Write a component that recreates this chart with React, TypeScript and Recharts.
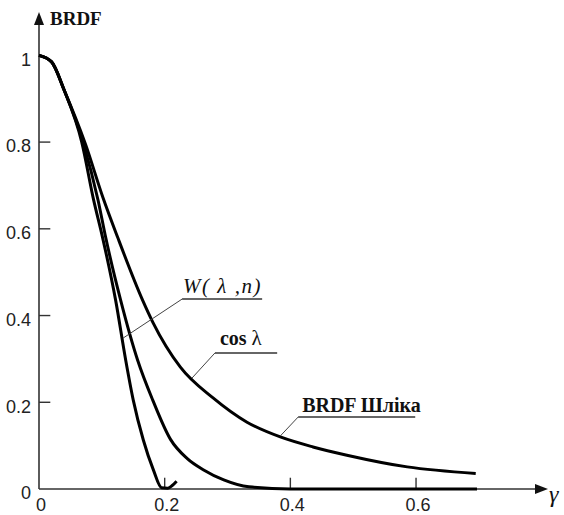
import { LineChart, Line, XAxis, YAxis, ReferenceLine, ReferenceDot } from 'recharts'

const X_TICKS = [0, 0.2, 0.4, 0.6]
const Y_TICKS = [0, 0.2, 0.4, 0.6, 0.8, 1]
const X_MARKS = [0.2, 0.4, 0.6]
const Y_MARKS = [0.2, 0.4, 0.6, 0.8]

// narrow curve (drops to zero near 0.2, small hook after it)
const W_GAMMA = [0, 0.02, 0.04, 0.068, 0.087, 0.101, 0.122, 0.138, 0.15, 0.166, 0.182, 0.195, 0.205, 0.212, 0.219]
const W_VALUE = [1, 0.985, 0.92, 0.8, 0.666, 0.581, 0.435, 0.297, 0.205, 0.113, 0.044, 0.003, 0.002, 0.008, 0.018]

// middle curve
const COS_GAMMA = [0, 0.02, 0.04, 0.07, 0.094, 0.106, 0.13, 0.157, 0.181, 0.209, 0.236, 0.262, 0.294, 0.334, 0.4, 0.5, 0.6, 0.697]
const COS_VALUE = [1, 0.985, 0.92, 0.8, 0.666, 0.581, 0.435, 0.297, 0.205, 0.115, 0.07, 0.044, 0.021, 0.005, 0, 0, 0, 0]

// wide curve (Schlick)
const SCHLICK_GAMMA = [0, 0.02, 0.04, 0.074, 0.102, 0.125, 0.165, 0.181, 0.225, 0.277, 0.331, 0.384, 0.436, 0.49, 0.586, 0.695]
const SCHLICK_VALUE = [1, 0.985, 0.92, 0.795, 0.671, 0.581, 0.435, 0.385, 0.281, 0.21, 0.154, 0.12, 0.097, 0.078, 0.051, 0.036]

const toPoints = (xs: number[], ys: number[]) => xs.map((x, i) => ({ x, y: ys[i] }))

const SERIF = "'Liberation Serif', 'DejaVu Serif', serif"
const SANS = "'Liberation Sans', Arial, sans-serif"
const AXIS = '#333'

const Arrow = (p: any) => {
  const a = Math.atan2(p.y2 - p.y1, p.x2 - p.x1)
  const len = 13, half = 5
  const bx = p.x2 - len * Math.cos(a), by = p.y2 - len * Math.sin(a)
  const pts = [
    [p.x2, p.y2],
    [bx + half * Math.sin(a), by - half * Math.cos(a)],
    [bx - half * Math.sin(a), by + half * Math.cos(a)],
  ].map(q => q.join(',')).join(' ')
  return (
    <g>
      <line x1={p.x1} y1={p.y1} x2={bx} y2={by} stroke={AXIS} strokeWidth={1.6} />
      <polygon points={pts} fill="#111" />
    </g>
  )
}

const Stroke = (w: number, c: string) => (p: any) => (
  <line x1={p.x1} y1={p.y1} x2={p.x2} y2={p.y2} stroke={c} strokeWidth={w} />
)

const callout = (content: React.ReactNode, dx: number, dy: number) => (p: any) => (
  <g>
    <line x1={p.x1} y1={p.y1} x2={p.x2} y2={p.y2} stroke={AXIS} strokeWidth={1.4} />
    <text x={p.x1 + dx} y={p.y1 - dy} fill="#111" style={{ fontFamily: SERIF }}>{content}</text>
  </g>
)

const XTick = ({ x, y, payload }: any) => (
  <text x={x + 2} y={y} dy="0.71em" textAnchor="middle" fill="#222" style={{ fontFamily: SANS, fontSize: 18 }}>
    {String(payload.value)}
  </text>
)

const YTick = ({ x, y, payload }: any) => (
  <text x={x} y={y + 4} dy="0.35em" textAnchor="end" fill="#222" style={{ fontFamily: SANS, fontSize: 18 }}>
    {String(payload.value)}
  </text>
)

export default function App() {
  return (
    <div style={{ position: 'absolute', left: 0, top: 0, width: 564, height: 515, background: '#fff' }}>
      <LineChart width={564} height={515} margin={{ top: 12, right: 16, bottom: 0, left: 0 }}>
        <XAxis dataKey="x" type="number" domain={[0, 0.81]} ticks={X_TICKS} axisLine={false} tickLine={false}
          tickSize={0} tickMargin={9} height={26} tick={<XTick />} interval={0} />
        <YAxis type="number" domain={[0, 1.1]} ticks={Y_TICKS} axisLine={false} tickLine={false}
          tickSize={0} tickMargin={8} width={39} tick={<YTick />} interval={0} />

        <ReferenceLine segment={[{ x: 0, y: 0 }, { x: 0.81, y: 0 }]} shape={Arrow} ifOverflow="visible" />
        <ReferenceLine segment={[{ x: 0, y: 0 }, { x: 0, y: 1.1 }]} shape={Arrow} ifOverflow="visible" />
        {X_MARKS.map(t => (
          <ReferenceLine key={'x' + t} segment={[{ x: t, y: 0 }, { x: t, y: 0.026 }]} shape={Stroke(1.4, AXIS)} />
        ))}
        {Y_MARKS.map(t => (
          <ReferenceLine key={'y' + t} segment={[{ x: 0, y: t }, { x: 0.018, y: t }]} shape={Stroke(1.4, AXIS)} />
        ))}

        <Line data={toPoints(SCHLICK_GAMMA, SCHLICK_VALUE)} dataKey="y" type="monotone" stroke="#000"
          strokeWidth={3} dot={false} isAnimationActive={false} />
        <Line data={toPoints(COS_GAMMA, COS_VALUE)} dataKey="y" type="monotone" stroke="#000"
          strokeWidth={3} dot={false} isAnimationActive={false} />
        <Line data={toPoints(W_GAMMA, W_VALUE)} dataKey="y" type="monotone" stroke="#000"
          strokeWidth={3} dot={false} isAnimationActive={false} />

        {/* callouts: leader + underline with text */}
        <ReferenceLine segment={[{ x: 0.2277, y: 0.438 }, { x: 0.1338, y: 0.348 }]} shape={Stroke(1, '#444')} />
        <ReferenceLine segment={[{ x: 0.2277, y: 0.438 }, { x: 0.3551, y: 0.438 }]}
          shape={callout(<tspan style={{ fontStyle: 'italic', fontSize: 21, letterSpacing: 1.5 }}>W( λ ,n)</tspan>, 1, 6)} />

        <ReferenceLine segment={[{ x: 0.28, y: 0.3137 }, { x: 0.2436, y: 0.256 }]} shape={Stroke(1, '#444')} />
        <ReferenceLine segment={[{ x: 0.28, y: 0.3137 }, { x: 0.379, y: 0.3137 }]}
          shape={callout(<><tspan style={{ fontWeight: 'bold', fontSize: 20 }}>cos </tspan><tspan style={{ fontSize: 21 }}>λ</tspan></>, 5, 8)} />

        <ReferenceLine segment={[{ x: 0.4124, y: 0.166 }, { x: 0.3838, y: 0.122 }]} shape={Stroke(1, '#444')} />
        <ReferenceLine segment={[{ x: 0.4124, y: 0.166 }, { x: 0.5987, y: 0.166 }]}
          shape={callout(<tspan style={{ fontWeight: 'bold', fontSize: 20 }}>BRDF Шліка</tspan>, 4, 5)} />

        <ReferenceDot x={0} y={1.1} r={0} ifOverflow="visible"
          shape={(p: any) => (
            <text x={p.cx + 11} y={p.cy + 13} fill="#111" style={{ fontFamily: SERIF, fontWeight: 'bold', fontSize: 19 }}>BRDF</text>
          )} />
        <ReferenceDot x={0.81} y={0} r={0} ifOverflow="visible"
          shape={(p: any) => (
            <text x={p.cx + 1} y={p.cy + 13} fill="#111" style={{ fontFamily: SERIF, fontStyle: 'italic', fontSize: 24 }}>γ</text>
          )} />
      </LineChart>
    </div>
  )
}
